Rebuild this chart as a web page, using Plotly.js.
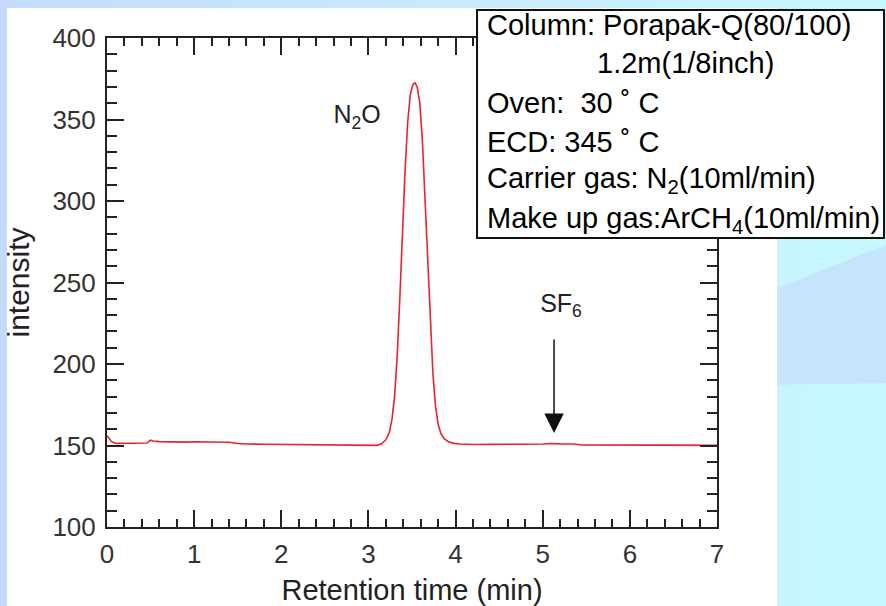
<!DOCTYPE html>
<html>
<head>
<meta charset="utf-8">
<script src="https://cdn.plot.ly/plotly-3.0.1.min.js"></script>
<style>
  html, body { margin: 0; padding: 0; }
  body { width: 886px; height: 606px; position: relative; overflow: hidden;
         background: linear-gradient(90deg, #c4dbfd 0%, #c8ecfe 55%, #c6f8ff 100%); }
  #swoosh { position: absolute; left: 760px; top: 245px; width: 126px; height: 140px;
            background: #c6e4fc; clip-path: polygon(0 50px, 126px 0, 126px 138px, 0 140px); }
  #panel { position: absolute; left: 7px; top: 8px; width: 770px; height: 598px; background: #ffffff; }
  #chart { position: absolute; left: 0; top: 0; width: 886px; height: 606px; }
</style>
</head>
<body>
<div id="swoosh"></div>
<div id="panel"></div>
<div id="chart"></div>
<script>
// Retention time (min)
const retentionTime = [
  0, 0.02, 0.05, 0.1, 0.2, 0.3, 0.4, 0.46, 0.5, 0.53, 0.6, 0.7, 0.8, 0.9, 1.0,
  1.1, 1.2, 1.3, 1.4, 1.5, 1.6, 1.8, 2.0, 2.2, 2.4, 2.6, 2.8, 2.9, 3.0, 3.1,
  3.15, 3.2, 3.24, 3.27, 3.3, 3.33, 3.36, 3.39, 3.42, 3.45, 3.48, 3.51, 3.535,
  3.56, 3.59, 3.62, 3.65, 3.68, 3.71, 3.74, 3.77, 3.8, 3.83, 3.87, 3.92, 3.98,
  4.05, 4.2, 4.4, 4.6, 4.8, 5.0, 5.1, 5.2, 5.35, 5.45, 5.6, 5.8, 6.0, 6.2, 6.4,
  6.6, 6.8, 6.9, 7.0
];
// Detector intensity
const intensity = [
  156, 154.5, 152.5, 151.3, 151.3, 151.4, 151.3, 151.5, 153.3, 152.8, 152.4, 152.2, 152.0, 152.1, 152.3,
  152.2, 152.3, 152.0, 152.0, 151.2, 150.9, 150.8, 150.7, 150.6, 150.6, 150.5, 150.3, 150.0, 149.9, 150.1,
  151.0, 153.5, 158, 166, 180, 205, 240, 280, 318, 348, 365, 371.5, 372.5,
  370, 360, 336, 300, 262, 225, 194, 174, 163, 157.5, 154, 152.3, 151.3,
  150.9, 150.6, 150.7, 150.6, 150.8, 150.9, 151.2, 151.0, 150.9, 150.3, 150.2, 150.2, 150.2, 150.2, 150.2,
  150.1, 150.3, 150.0, 150.1
];
// Peak labels
const peakNames = ["N<sub>2</sub>O", "SF<sub>6</sub>"];
const peakLabelX = [2.87, 5.21];
const peakLabelY = [351.5, 236];
// SF6 arrow (tail -> tip)
const arrowX = 5.13;
const arrowTailY = 216;
const arrowTipY = 157.7;
// Conditions box text
const conditions = [
  "Column: Porapak-Q(80/100)",
  "1.2m(1/8inch)",
  "Oven:  30 ˚ C",
  "ECD: 345 ˚ C",
  "Carrier gas: N<sub>2</sub>(10ml/min)",
  "Make up gas:ArCH<sub>4</sub>(10ml/min)"
];
const condX = [0.6197, 0.80, 0.6197, 0.6197, 0.6197, 0.6197];
const condY = [1.0266, 0.9489, 0.8671, 0.7873, 0.7096, 0.6278];

const FONT = "'Liberation Sans', Arial, sans-serif";

const trace = {
  x: retentionTime, y: intensity, type: "scatter", mode: "lines",
  line: { color: "#e3262d", width: 1.6 }, hoverinfo: "skip", showlegend: false
};
const labelTrace = {
  x: peakLabelX, y: peakLabelY, type: "scatter", mode: "text", text: peakNames,
  textposition: "middle center", hoverinfo: "skip", showlegend: false,
  textfont: { family: FONT, size: 25, color: "#222" }
};

const axisCommon = {
  showline: true, linecolor: "#222", linewidth: 2, mirror: "ticks",
  ticks: "inside", tickcolor: "#222", tickwidth: 2, ticklen: 17,
  showgrid: false, zeroline: false,
  tickfont: { family: FONT, size: 26, color: "#333" }
};

const annotations = [{
  x: arrowX, y: arrowTipY, ax: arrowX, ay: arrowTailY, axref: "x", ayref: "y",
  xref: "x", yref: "y", text: "", showarrow: true, arrowhead: 2, arrowsize: 2.6,
  arrowwidth: 1.5, arrowcolor: "#111"
}];
conditions.forEach((t, i) => annotations.push({
  x: condX[i], y: condY[i], xref: "paper", yref: "paper", xanchor: "left", yanchor: "middle",
  text: t, showarrow: false,
  font: { family: FONT, size: 29, color: "#000" }
}));

const layout = {
  width: 886, height: 606,
  margin: { l: 107, r: 169, t: 38, b: 79, pad: 0 },
  paper_bgcolor: "rgba(0,0,0,0)", plot_bgcolor: "#ffffff",
  xaxis: Object.assign({}, axisCommon, {
    range: [0, 7], dtick: 1, tick0: 0, ticklabelstandoff: 3,
    minor: { dtick: 0.2, ticks: "inside", ticklen: 8, tickwidth: 2, tickcolor: "#222", showgrid: false },
    title: { text: "Retention time (min)", font: { family: FONT, size: 29, color: "#222" }, standoff: 12 }
  }),
  yaxis: Object.assign({}, axisCommon, {
    range: [100, 400], dtick: 50, tick0: 100, ticklabelstandoff: 4,
    minor: { dtick: 10, ticks: "inside", ticklen: 10, tickwidth: 2, tickcolor: "#222", showgrid: false },
    title: { text: "intensity", font: { family: FONT, size: 30, color: "#222" }, standoff: 14 }
  }),
  shapes: [{
    type: "rect", xref: "paper", yref: "paper", layer: "above",
    x0: 0.6066, x1: 1.2738, y0: 0.591, y1: 1.0573,
    fillcolor: "#ffffff", line: { color: "#111", width: 2 }
  }],
  annotations: annotations
};

Plotly.newPlot("chart", [trace, labelTrace], layout, { displayModeBar: false });
</script>
</body>
</html>
